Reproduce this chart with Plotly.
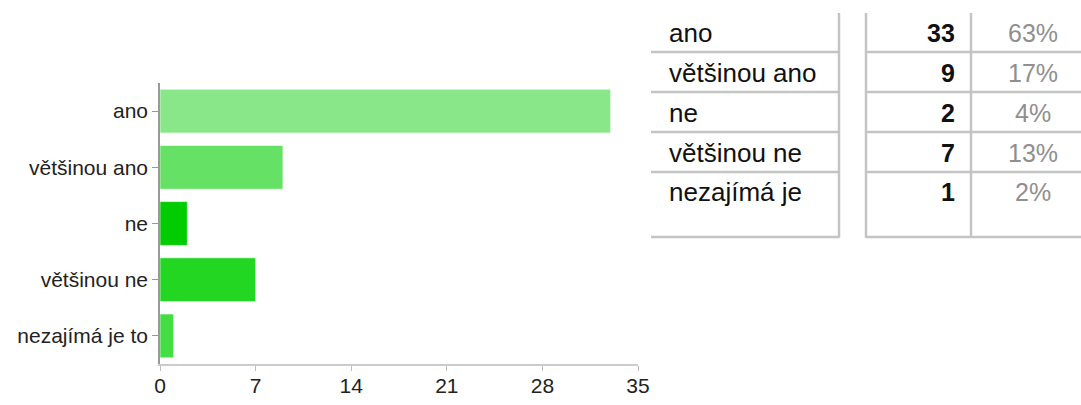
import plotly.graph_objects as go

categories = ["ano", "většinou ano", "ne", "většinou ne", "nezajímá je to"]
counts = [33, 9, 2, 7, 1]
table_labels = ["ano", "většinou ano", "ne", "většinou ne", "nezajímá je"]
percents = ["63%", "17%", "4%", "13%", "2%"]
bar_colors = ["#89e789", "#65e165", "#00cc00", "#22d622", "#44dd44"]
x_ticks = [0, 7, 14, 21, 28, 35]

W, H = 1081, 405
FONT = "Liberation Sans, Arial, Helvetica, sans-serif"


def px(x):
    return x / W


def py(y):
    return 1 - y / H


fig = go.Figure()
fig.add_trace(go.Bar(
    y=categories, x=counts, orientation="h",
    marker=dict(color=bar_colors, line=dict(color="rgba(255,255,255,0.6)", width=1)),
    width=0.78, hoverinfo="x+y",
))

fig.update_layout(
    width=W, height=H,
    margin=dict(l=0, r=0, t=0, b=0),
    paper_bgcolor="white", plot_bgcolor="white",
    showlegend=False,
    font=dict(family=FONT, size=21, color="#222222"),
    xaxis=dict(
        domain=[px(160), px(638)], range=[0, 35], automargin=False,
        tickvals=x_ticks, ticktext=[str(v) for v in x_ticks],
        showgrid=False, zeroline=False,
        showline=True, linecolor="#cccccc", linewidth=1.5,
        ticks="outside", ticklen=5, tickcolor="#bbbbbb", tickwidth=1,
        ticklabelstandoff=-3,
        tickfont=dict(size=21, color="#222222"),
    ),
    yaxis=dict(
        domain=[py(364), py(83)], automargin=False,
        categoryorder="array", categoryarray=categories, autorange="reversed",
        showgrid=False, zeroline=False,
        showline=True, linecolor="#999999", linewidth=1.5,
        ticks="outside", ticklen=6, tickcolor="#999999", tickwidth=1,
        tickfont=dict(size=21, color="#222222"),
    ),
)

# table lines
line_style = dict(color="#c4c4c4", width=2.5)
row_lines = [52, 92, 132, 172, 237]
shapes = []
for yl in row_lines:
    shapes.append(dict(type="line", xref="paper", yref="paper",
                       x0=px(651), x1=px(839), y0=py(yl), y1=py(yl), line=line_style))
    shapes.append(dict(type="line", xref="paper", yref="paper",
                       x0=px(866), x1=px(1081), y0=py(yl), y1=py(yl), line=line_style))
for xl in [839, 866, 971]:
    shapes.append(dict(type="line", xref="paper", yref="paper",
                       x0=px(xl), x1=px(xl), y0=py(13), y1=py(238), line=line_style))
fig.update_layout(shapes=shapes)

row_centers = [33, 73, 113, 153, 192]
annotations = []
for lab, c, p, yc in zip(table_labels, counts, percents, row_centers):
    annotations.append(dict(xref="paper", yref="paper", x=px(667), y=py(yc),
                            xanchor="left", yanchor="middle", showarrow=False,
                            text=lab, font=dict(family=FONT, size=26, color="#111111")))
    annotations.append(dict(xref="paper", yref="paper", x=px(957), y=py(yc),
                            xanchor="right", yanchor="middle", showarrow=False,
                            text="<b>%d</b>" % c, font=dict(family=FONT, size=25, color="#111111")))
    annotations.append(dict(xref="paper", yref="paper", x=px(1033), y=py(yc),
                            xanchor="center", yanchor="middle", showarrow=False,
                            text=p, font=dict(family=FONT, size=25, color="#8f8f8f")))
fig.update_layout(annotations=annotations)

fig.write_html(
    "out.html",
    config={"displayModeBar": False},
    post_script="document.body.style.margin='0';document.body.style.overflow='hidden';",
)
